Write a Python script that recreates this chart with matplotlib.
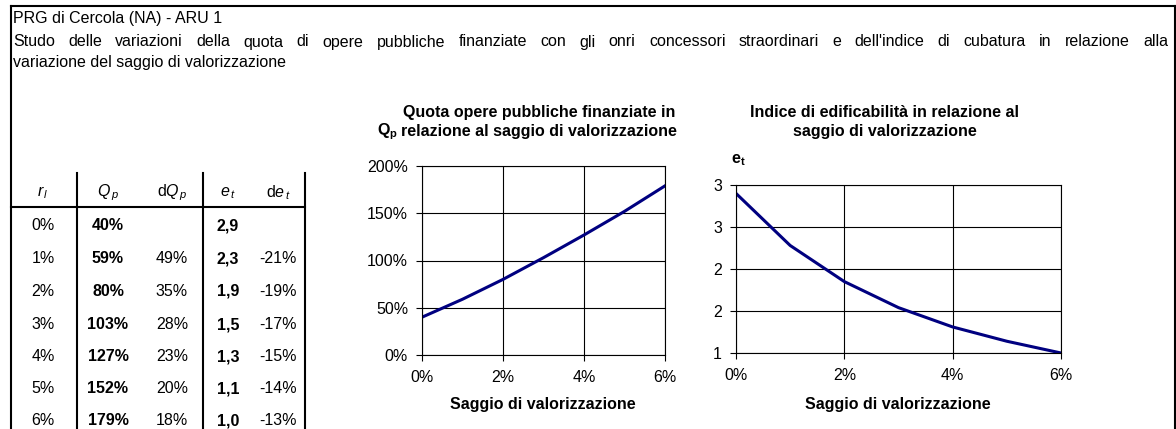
import matplotlib
matplotlib.use("Agg")
import matplotlib.pyplot as plt
from matplotlib.lines import Line2D
from matplotlib.ticker import FuncFormatter, MultipleLocator

plt.rcParams['font.family'] = ['Liberation Sans', 'DejaVu Sans']
plt.rcParams['mathtext.fontset'] = 'custom'
plt.rcParams['mathtext.it'] = 'Liberation Sans:italic'
plt.rcParams['mathtext.rm'] = 'Liberation Sans'
plt.rcParams['mathtext.bf'] = 'Liberation Sans:bold'

# ---- data ----
rl = [0, 1, 2, 3, 4, 5, 6]                      # saggio di valorizzazione (%)
rl_labels = ["0%", "1%", "2%", "3%", "4%", "5%", "6%"]
Qp = [0.40, 0.59, 0.80, 1.03, 1.27, 1.52, 1.79]  # quota opere pubbliche
dQp = ["", "49%", "35%", "28%", "23%", "20%", "18%"]
et = [2.90, 2.28, 1.85, 1.54, 1.31, 1.14, 1.00]  # indice di edificabilità
det = ["", "-21%", "-19%", "-17%", "-15%", "-14%", "-13%"]

title1 = "PRG di Cercola (NA) - ARU 1"
title2 = ("Studo delle variazioni della quota di opere pubbliche finanziate con gli onri "
          "concessori straordinari e dell'indice di cubatura in relazione alla")
title3 = "variazione del saggio di valorizzazione"
chart1_title = "Quota opere pubbliche finanziate in\nrelazione al saggio di valorizzazione"
chart2_title = "Indice di edificabilità in relazione al\nsaggio di valorizzazione"
xlabel = "Saggio di valorizzazione"

FS = 11.5
W, H = 1176, 429
fig = plt.figure(figsize=(W / 100, H / 100), dpi=100)
fig.patch.set_facecolor("white")


def fx(x):
    return x / W


def fy(y):
    return 1 - y / H


def txt(x, y, s, **kw):
    kw.setdefault("fontsize", FS)
    kw.setdefault("va", "center")
    return fig.text(fx(x), fy(y), s, **kw)


def hline(x0, x1, y, lw=1.5):
    fig.add_artist(Line2D([fx(x0), fx(x1)], [fy(y), fy(y)], color="black", lw=lw,
                          transform=fig.transFigure))


def vline(x, y0, y1, lw=1.5):
    fig.add_artist(Line2D([fx(x), fx(x)], [fy(y0), fy(y1)], color="black", lw=lw,
                          transform=fig.transFigure))


# outer frame
hline(11, 1175, 6)
vline(11, 6, 430)
vline(1175, 6, 430)

# header text
txt(13, 18, title1)
# justified second line
renderer = fig.canvas.get_renderer()
words = title2.split(" ")
arts = [txt(13, 42, w) for w in words]
widths = [a.get_window_extent(renderer).width for a in arts]
x0, x1 = 13, 1168
gap = (x1 - x0 - sum(widths)) / (len(words) - 1)
cx = x0
for a, w in zip(arts, widths):
    a.set_x(fx(cx))
    cx += w + gap
txt(13, 63, title3)

# ---- table ----
col_x = [43, 108, 172, 228, 278]
txt(col_x[0], 193, r"$r_{\,l}$", ha="center")
txt(col_x[1], 193, r"$Q_{\,p}$", ha="center")
txt(col_x[2], 193, r"d$Q_{\,p}$", ha="center")
txt(col_x[3], 193, r"$e_{\,t}$", ha="center")
txt(col_x[4], 193, r"d$e_{\,t}$", ha="center")

hline(11, 305, 207)
for x in (77, 203, 305):
    vline(x, 173, 430)

row_base = [230, 263, 296, 329, 361, 393, 425]
for i in range(len(rl)):
    y = row_base[i]
    kw = dict(ha="center", va="baseline")
    txt(col_x[0], y, rl_labels[i], **kw)
    txt(col_x[1], y, f"{round(Qp[i] * 100)}%", fontweight="bold", **kw)
    txt(col_x[2], y, dQp[i], **kw)
    txt(col_x[3], y, f"{et[i]:.1f}".replace(".", ","), fontweight="bold", **kw)
    txt(col_x[4], y, det[i], **kw)


def style_axes(ax):
    for s in ax.spines.values():
        s.set_color("black")
        s.set_linewidth(0.8)
    ax.grid(True, color="black", lw=0.8)
    ax.set_axisbelow(True)
    ax.tick_params(direction="out", length=4, width=0.8, labelsize=FS)
    ax.tick_params(axis="y", pad=6)
    ax.tick_params(axis="x", pad=7)
    ax.set_xlim(0, 6)
    ax.xaxis.set_major_locator(MultipleLocator(2))
    ax.xaxis.set_major_formatter(FuncFormatter(lambda v, p: f"{int(round(v))}%"))


# ---- chart 1 ----
ax1 = fig.add_axes([fx(422), fy(355), fx(665 - 422), (355 - 166) / H])
ax1.plot(rl, Qp, color="#000080", lw=2.2, solid_joinstyle="round")
ax1.set_ylim(0, 2.0)
ax1.yaxis.set_major_locator(MultipleLocator(0.5))
ax1.yaxis.set_major_formatter(FuncFormatter(lambda v, p: f"{int(round(v * 100))}%"))
style_axes(ax1)
txt(539, 122, chart1_title, ha="center", fontweight="bold", linespacing=1.3)
txt(377, 132, r"$\mathbf{Q}_{\mathbf{p}}$", ha="left")
txt(543, 405, xlabel, ha="center", fontweight="bold")

# ---- chart 2 ----
ax2 = fig.add_axes([fx(736), fy(353), fx(1061 - 736), (353 - 185) / H])
ax2.plot(rl, et, color="#000080", lw=2.2, solid_joinstyle="round")
ax2.set_ylim(1, 3)
ax2.yaxis.set_major_locator(MultipleLocator(0.5))
ax2.yaxis.set_major_formatter(FuncFormatter(lambda v, p: f"{int(v + 0.5)}"))
style_axes(ax2)
txt(885, 122, chart2_title, ha="center", fontweight="bold", linespacing=1.3)
txt(731, 160, r"$\mathbf{e}_{\mathbf{t}}$", ha="left")
txt(898, 405, xlabel, ha="center", fontweight="bold")

fig.savefig("out.png", dpi=100, facecolor="white")
